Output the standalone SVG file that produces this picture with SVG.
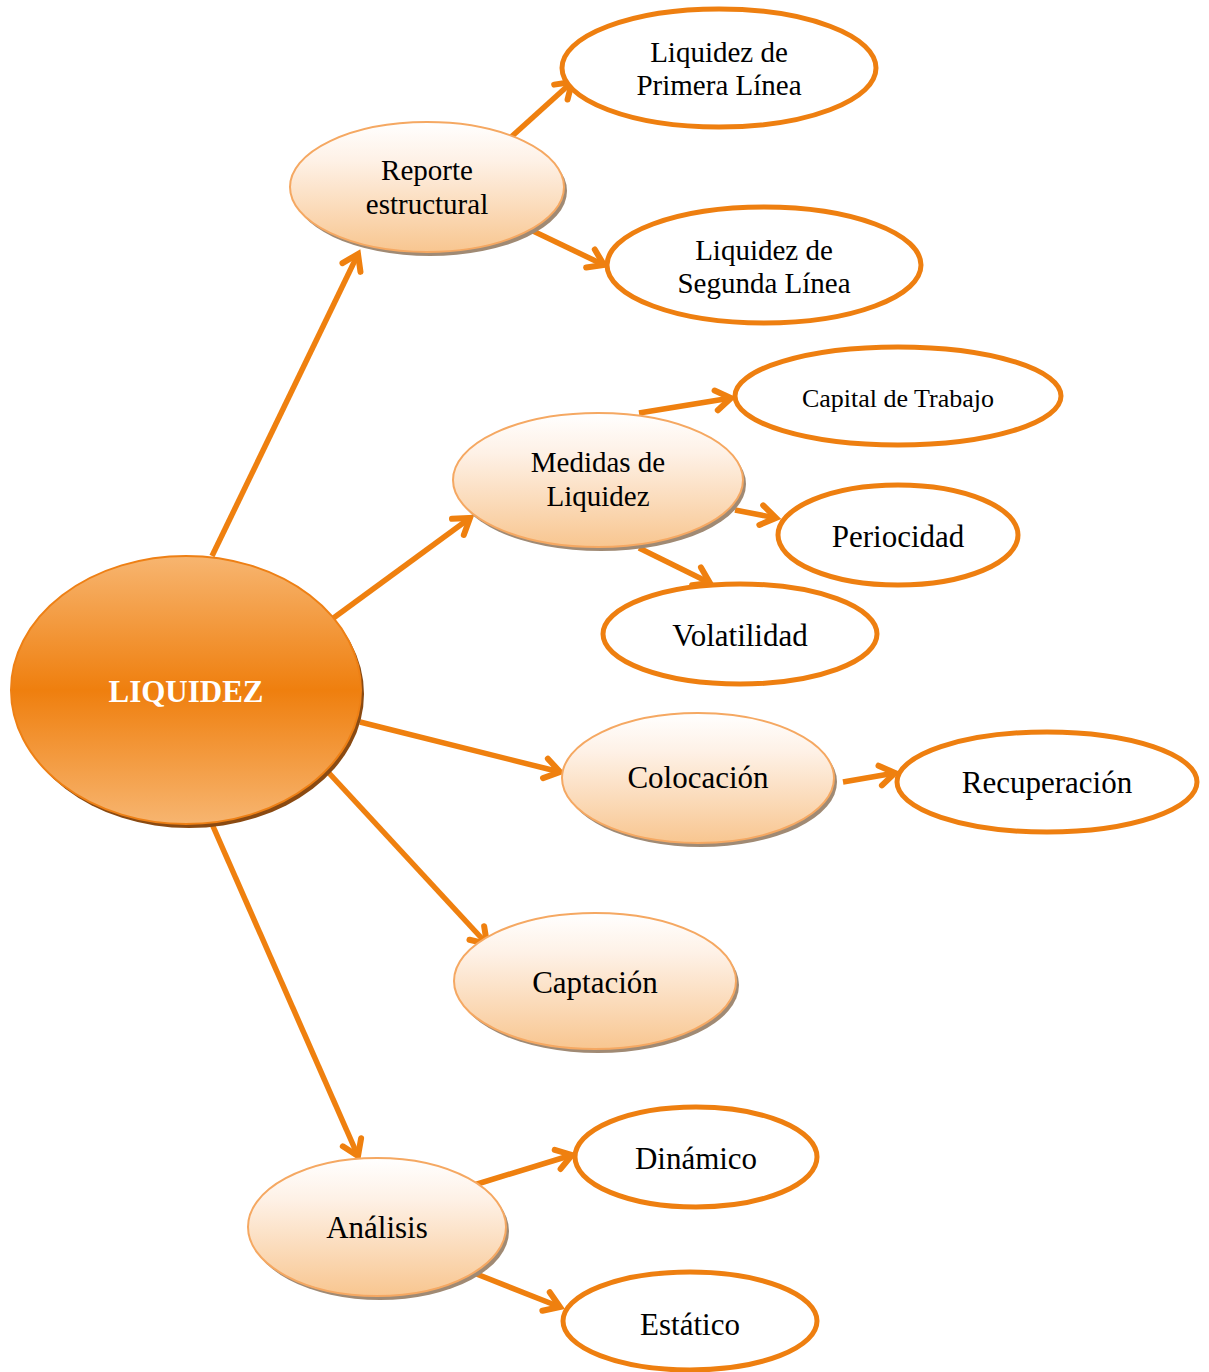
<svg xmlns="http://www.w3.org/2000/svg" width="1209" height="1372" viewBox="0 0 1209 1372">
  <defs>
    <linearGradient id="gMain" x1="0" y1="0" x2="0" y2="1">
      <stop offset="0" stop-color="#F7B570"/>
      <stop offset="0.5" stop-color="#EF7F0E"/>
      <stop offset="1" stop-color="#F7B570"/>
    </linearGradient>
    <linearGradient id="gSoft" x1="0" y1="0" x2="0" y2="1">
      <stop offset="0" stop-color="#FFFFFF"/>
      <stop offset="0.3" stop-color="#FEF1E6"/>
      <stop offset="1" stop-color="#F8C690"/>
    </linearGradient>
    <marker id="head" viewBox="0 0 30 30" refX="22" refY="15" markerUnits="userSpaceOnUse" markerWidth="30" markerHeight="30" orient="auto">
      <path d="M7,5 L22,15 L7,25" fill="none" stroke="#EF800F" stroke-width="6" stroke-linecap="round" stroke-linejoin="miter"/>
    </marker>
    <style>
      .edge { stroke: #EF800F; stroke-width: 5.5; fill: none; marker-end: url(#head); }
      .soft { fill: url(#gSoft); stroke: #F5A862; stroke-width: 2; }
      .softShadow { fill: #A08A74; }
      .ring { fill: #FFFFFF; stroke: #EE7F10; stroke-width: 5; }
      .lbl { font-family: "Liberation Serif", "Times New Roman", serif; fill: #000000; text-anchor: middle; }
      .two { font-size: 29px; }
      .one { font-size: 31px; }
    </style>
  </defs>

  <!-- connectors -->
  <g id="connectors">
    <line class="edge" x1="212" y1="556" x2="358" y2="254"/>
    <line class="edge" x1="328" y1="622" x2="470" y2="518"/>
    <line class="edge" x1="360" y1="722" x2="560" y2="772"/>
    <line class="edge" x1="328" y1="772" x2="487" y2="944"/>
    <line class="edge" x1="212" y1="824" x2="358" y2="1156"/>
    <line class="edge" x1="510" y1="138" x2="572" y2="82"/>
    <line class="edge" x1="533" y1="231" x2="604" y2="265"/>
    <line class="edge" x1="639" y1="413" x2="731" y2="398"/>
    <line class="edge" x1="735" y1="510" x2="776" y2="518"/>
    <line class="edge" x1="639" y1="548" x2="710" y2="583"/>
    <line class="edge" x1="843" y1="782" x2="895" y2="773"/>
    <line class="edge" x1="474" y1="1185" x2="572" y2="1155"/>
    <line class="edge" x1="474" y1="1273" x2="560" y2="1307"/>
  </g>

  <!-- central node -->
  <g id="liquidez">
    <ellipse cx="189" cy="694" rx="175" ry="134" fill="#8A4A12"/>
    <ellipse cx="186" cy="690" rx="175" ry="134" fill="url(#gMain)" stroke="#EE8015" stroke-width="2"/>
    <text class="lbl" x="186" y="702" font-size="31" font-weight="bold" style="fill:#FFFFFF">LIQUIDEZ</text>
  </g>

  <!-- first-level nodes -->
  <g id="reporte">
    <ellipse class="softShadow" cx="430" cy="191" rx="137" ry="65"/>
    <ellipse class="soft" cx="427" cy="187" rx="137" ry="65"/>
    <text class="lbl two" x="427" y="180">Reporte</text>
    <text class="lbl two" x="427" y="214">estructural</text>
  </g>
  <g id="medidas">
    <ellipse class="softShadow" cx="601" cy="484" rx="145" ry="67"/>
    <ellipse class="soft" cx="598" cy="480" rx="145" ry="67"/>
    <text class="lbl two" x="598" y="472">Medidas de</text>
    <text class="lbl two" x="598" y="506">Liquidez</text>
  </g>
  <g id="colocacion">
    <ellipse class="softShadow" cx="701" cy="782" rx="136" ry="65"/>
    <ellipse class="soft" cx="698" cy="778" rx="136" ry="65"/>
    <text class="lbl one" x="698" y="788">Colocación</text>
  </g>
  <g id="captacion">
    <ellipse class="softShadow" cx="598" cy="985" rx="141" ry="68"/>
    <ellipse class="soft" cx="595" cy="981" rx="141" ry="68"/>
    <text class="lbl one" x="595" y="993">Captación</text>
  </g>
  <g id="analisis">
    <ellipse class="softShadow" cx="380" cy="1231" rx="129" ry="69"/>
    <ellipse class="soft" cx="377" cy="1227" rx="129" ry="69"/>
    <text class="lbl one" x="377" y="1238">Análisis</text>
  </g>

  <!-- second-level nodes -->
  <g id="primera">
    <ellipse class="ring" cx="719" cy="68" rx="157" ry="59"/>
    <text class="lbl two" x="719" y="62">Liquidez de</text>
    <text class="lbl two" x="719" y="95">Primera Línea</text>
  </g>
  <g id="segunda">
    <ellipse class="ring" cx="764" cy="265" rx="157" ry="58"/>
    <text class="lbl two" x="764" y="260">Liquidez de</text>
    <text class="lbl two" x="764" y="293">Segunda Línea</text>
  </g>
  <g id="capital">
    <ellipse class="ring" cx="898" cy="396" rx="163" ry="49"/>
    <text class="lbl" x="898" y="407" font-size="26">Capital de Trabajo</text>
  </g>
  <g id="periocidad">
    <ellipse class="ring" cx="898" cy="535" rx="120" ry="50"/>
    <text class="lbl one" x="898" y="547">Periocidad</text>
  </g>
  <g id="volatilidad">
    <ellipse class="ring" cx="740" cy="634" rx="137" ry="50"/>
    <text class="lbl one" x="740" y="646">Volatilidad</text>
  </g>
  <g id="recuperacion">
    <ellipse class="ring" cx="1047" cy="782" rx="150" ry="50"/>
    <text class="lbl one" x="1047" y="793">Recuperación</text>
  </g>
  <g id="dinamico">
    <ellipse class="ring" cx="696" cy="1157" rx="121" ry="50"/>
    <text class="lbl one" x="696" y="1169">Dinámico</text>
  </g>
  <g id="estatico">
    <ellipse class="ring" cx="690" cy="1321" rx="127" ry="49"/>
    <text class="lbl one" x="690" y="1335">Estático</text>
  </g>
</svg>
